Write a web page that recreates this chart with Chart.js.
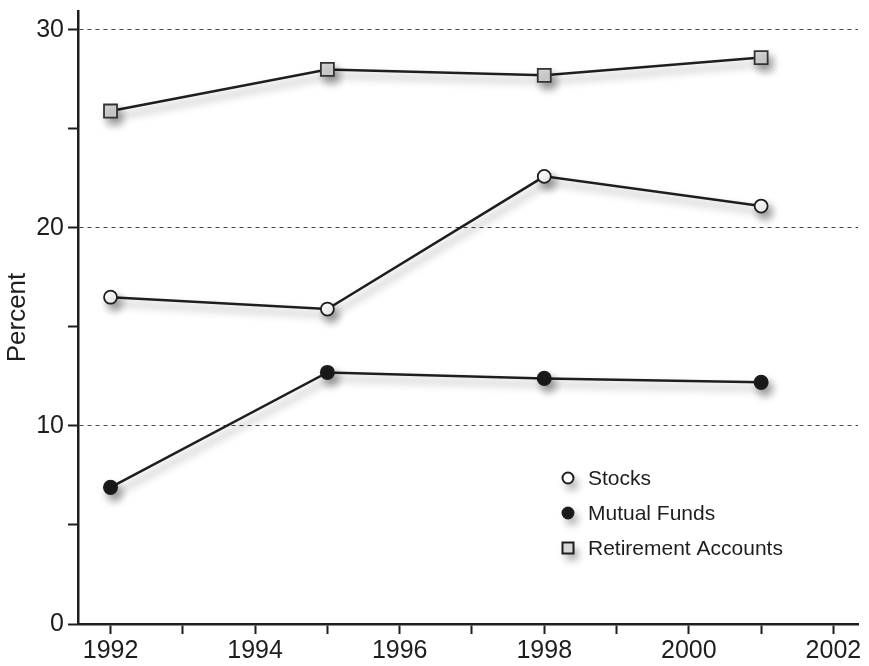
<!DOCTYPE html>
<html>
<head>
<meta charset="utf-8">
<script src="https://cdn.jsdelivr.net/npm/chart.js@4/dist/chart.umd.min.js"></script>
<style>
html,body{margin:0;padding:0;background:#fff;}
#wrap{width:869px;height:666px;position:relative;}
</style>
</head>
<body>
<div id="wrap"><canvas id="c" width="869" height="666"></canvas></div>
<script>
const years = [1992, 1995, 1998, 2001];
const seriesNames = ['Stocks', 'Mutual Funds', 'Retirement Accounts'];
const stocks = [16.5, 15.9, 22.6, 21.1];
const mutualFunds = [6.9, 12.7, 12.4, 12.2];
const retirementAccounts = [25.9, 28.0, 27.7, 28.6];
const yAxisTitle = 'Percent';

const FONT = "'Liberation Sans', Arial, Helvetica, sans-serif";
const INK = '#1e1e1e';

function pts(vals){ return years.map((y,i)=>({x:y, y:vals[i]})); }

const shadowPlugin = {
  id: 'shadow',
  beforeDatasetsDraw(chart){
    const ctx = chart.ctx;
    ctx.save();
    ctx.shadowColor = 'rgba(0,0,0,0.4)';
    ctx.shadowBlur = 9;
    ctx.shadowOffsetX = 4;
    ctx.shadowOffsetY = 6;
  },
  afterDatasetsDraw(chart){ chart.ctx.restore(); }
};

const legendPlugin = {
  id: 'customLegend',
  afterDraw(chart){
    const ctx = chart.ctx;
    const x0 = 568, ys = [478, 513, 548];
    chart.data.datasets.forEach((ds, i) => {
      const y = ys[i];
      ctx.save();
      ctx.shadowColor = 'rgba(0,0,0,0.4)';
      ctx.shadowBlur = 9;
      ctx.shadowOffsetX = 4;
      ctx.shadowOffsetY = 6;
      ctx.lineWidth = 2;
      ctx.strokeStyle = INK;
      ctx.fillStyle = ds.pointBackgroundColor;
      ctx.beginPath();
      if (ds.pointStyle === 'rect') {
        ctx.rect(x0 - 5.5, y - 5.5, 11, 11);
      } else {
        ctx.arc(x0, y, 5.5, 0, Math.PI*2);
      }
      ctx.fill();
      ctx.shadowColor = 'transparent';
      ctx.stroke();
      ctx.restore();
      ctx.save();
      ctx.fillStyle = INK;
      ctx.font = '21px ' + FONT;
      ctx.textBaseline = 'middle';
      ctx.textAlign = 'left';
      ctx.fillText(ds.label, x0 + 20, y + 1);
      ctx.restore();
    });
  }
};

const ctx = document.getElementById('c').getContext('2d');
new Chart(ctx, {
  type: 'line',
  data: {
    datasets: [
      { label: seriesNames[0], data: pts(stocks), borderColor: INK, borderWidth: 2.5,
        pointStyle: 'circle', pointRadius: 6.5, pointBorderWidth: 1.8,
        pointBackgroundColor: '#ffffff', pointBorderColor: INK, tension: 0, clip: false },
      { label: seriesNames[1], data: pts(mutualFunds), borderColor: INK, borderWidth: 2.5,
        pointStyle: 'circle', pointRadius: 6.8, pointBorderWidth: 1.5,
        pointBackgroundColor: '#1a1a1a', pointBorderColor: INK, tension: 0, clip: false },
      { label: seriesNames[2], data: pts(retirementAccounts), borderColor: INK, borderWidth: 2.5,
        pointStyle: 'rect', pointRadius: 9.2, pointBorderWidth: 1.8,
        pointBackgroundColor: '#d8d8d8', pointBorderColor: '#333', tension: 0, clip: false }
    ]
  },
  options: {
    responsive: false,
    animation: false,
    events: [],
    layout: { padding: { top: 1, right: 9, left: 0, bottom: 0 } },
    plugins: { legend: { display: false }, tooltip: { enabled: false } },
    scales: {
      x: {
        type: 'linear',
        min: 1991.55, max: 2002.34,
        afterFit(s){ s.height = 42; s.paddingLeft = 0; s.paddingRight = 0; s.paddingTop = 0; s.paddingBottom = 0; },
        ticks: {
          stepSize: 1, includeBounds: false, autoSkip: false, maxRotation: 0,
          color: INK, font: { size: 25, family: FONT }, padding: 2,
          callback: v => (Math.round(v) % 2 === 0 ? String(Math.round(v)) : '')
        },
        grid: { drawOnChartArea: false, drawTicks: true, tickLength: 10, tickColor: INK, tickWidth: 2 },
        border: { display: true, color: INK, width: 2.5 }
      },
      y: {
        type: 'linear',
        min: 0, max: 30.95,
        afterFit(s){ s.width = 78; s.paddingTop = 0; s.paddingBottom = 0; s.paddingLeft = 0; s.paddingRight = 0; },
        ticks: {
          stepSize: 5, includeBounds: false, color: INK, font: { size: 25, family: FONT }, padding: 4,
          callback: v => (v % 10 === 0 ? String(v) : '')
        },
        grid: {
          drawOnChartArea: true, drawTicks: true, tickLength: 10, tickColor: INK, tickWidth: 2,
          lineWidth: 1,
          color: c => (c.tick && c.tick.value > 0 && c.tick.value % 10 === 0) ? '#444' : 'rgba(0,0,0,0)'
        },
        border: { display: true, color: INK, width: 2.5, dash: [4, 4] },
        title: { display: true, text: yAxisTitle, color: INK, font: { size: 26, family: FONT }, padding: { top: 2, bottom: 0 } }
      }
    }
  },
  plugins: [shadowPlugin, legendPlugin]
});
</script>
</body>
</html>
